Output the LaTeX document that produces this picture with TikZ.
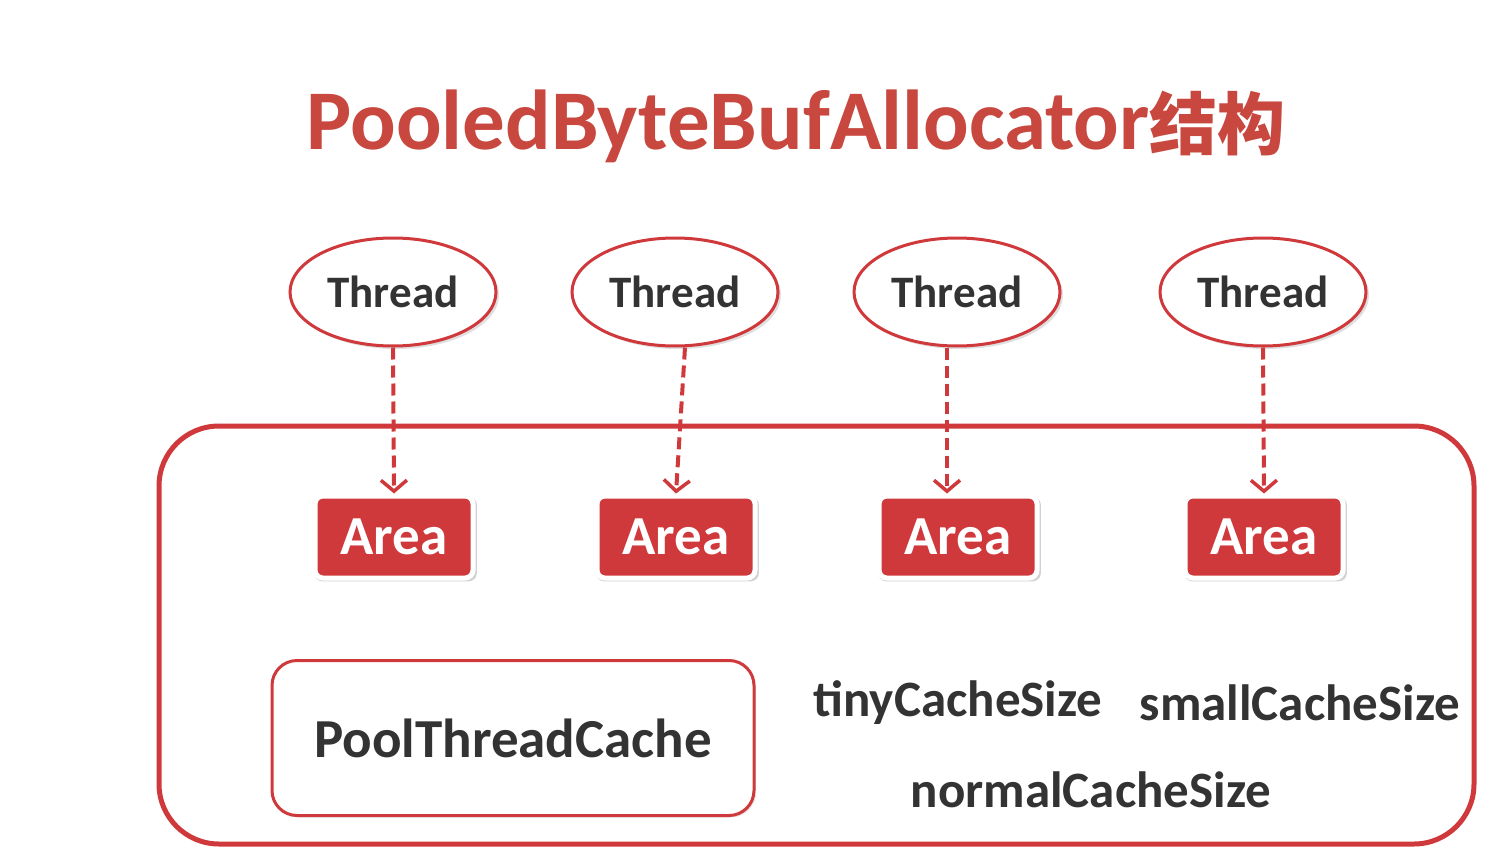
\documentclass[tikz,border=0pt]{standalone}
\usepackage{fontspec}
\setmainfont{Carlito}
\newfontfamily\cjk{Noto Sans CJK SC}
\usetikzlibrary{shapes.geometric,arrows.meta,shadows}
\definecolor{myred}{HTML}{D0393C}
\definecolor{titlered}{HTML}{C8473E}
\definecolor{txt}{HTML}{333333}
\begin{document}
\begin{tikzpicture}[x=1pt,y=-1pt,
  thread/.style={ellipse, draw=myred, line width=3pt, fill=white, minimum width=206pt, minimum height=108pt, inner sep=0pt,
    font=\fontsize{45}{48}\selectfont\bfseries, text=txt, drop shadow={shadow xshift=3pt, shadow yshift=-3pt, opacity=0.25}},
  areabox/.style={rectangle, rounded corners=8pt, fill=myred, draw=white, line width=5pt, minimum width=158pt, minimum height=82pt, inner sep=0pt,
    font=\fontsize{55}{58}\selectfont\bfseries, text=white, drop shadow={shadow xshift=1.5pt, shadow yshift=-2pt, shadow scale=1.03, opacity=0.35}},
  link/.style={draw=myred, line width=4pt, dash pattern=on 12pt off 6pt, -{Straight Barb[length=11pt,width=26pt,line width=3.5pt]}},
  label/.style={font=\fontsize{51}{54}\selectfont\bfseries, text=txt, inner sep=0pt}
]
\useasboundingbox[fill=white] (0,0) rectangle (1497,859);
\node[text=titlered, inner sep=0pt, font=\fontsize{85}{90}\selectfont\bfseries] (title) at (796,126) {PooledByteBufAllocator{\cjk\fontsize{68}{70}\selectfont 结构}};

\node[draw=myred, line width=5pt, rounded corners=60pt, minimum width=1315pt, minimum height=418pt, inner sep=0pt] (outer) at (816.5,635) {};

\node[thread] (t1) at (393,292) {Thread};
\node[thread] (t2) at (675,292) {Thread};
\node[thread] (t3) at (957,292) {Thread};
\node[thread] (t4) at (1263,292) {Thread};

\node[areabox] (a1) at (394,537) {Area};
\node[areabox] (a2) at (676,537) {Area};
\node[areabox] (a3) at (958,537) {Area};
\node[areabox] (a4) at (1264,537) {Area};

\draw[link] (t1.south) -- (a1.north);
\draw[link] (t2.south -| 685,0) -- (a2.north);
\draw[link] (t3.south -| 947,0) -- (a3.north -| 947,0);
\draw[link] (t4.south) -- (a4.north);

\node[rectangle, rounded corners=25pt, draw=myred, line width=3pt, fill=white, minimum width=482pt, minimum height=155pt, inner sep=0pt,
  font=\fontsize{55}{58}\selectfont\bfseries, text=txt, drop shadow={shadow xshift=2pt, shadow yshift=-2pt, opacity=0.2}] (ptc) at (513,738) {PoolThreadCache};

\node[label] (tiny) at (958,703) {tinyCacheSize};
\node[label] (small) at (1300,703) {smallCacheSize};
\node[label] (normal) at (1091,790) {normalCacheSize};
\end{tikzpicture}
\end{document}
